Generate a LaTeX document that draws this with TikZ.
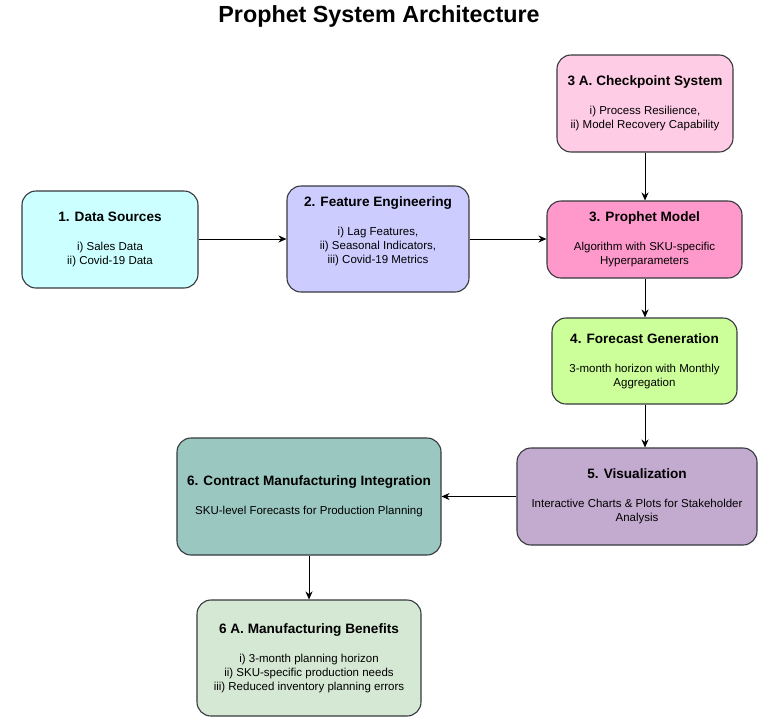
\documentclass[tikz,border=0pt]{standalone}
\usepackage{fontspec}
\setmainfont{Liberation Sans}
\usetikzlibrary{arrows.meta,calc}
\definecolor{cOne}{HTML}{CCFFFF}
\definecolor{cTwo}{HTML}{CCCCFF}
\definecolor{cThreeA}{HTML}{FFCCE6}
\definecolor{cThree}{HTML}{FF99CC}
\definecolor{cFour}{HTML}{CCFF99}
\definecolor{cFive}{HTML}{C3ABD0}
\definecolor{cSix}{HTML}{9AC7BF}
\definecolor{cSixA}{HTML}{D5E8D4}
\definecolor{edgec}{HTML}{36393D}
\tikzset{
  box/.style={draw=edgec, line width=1.1pt, rounded corners=14pt, align=center,
    inner sep=0pt, font=\fontsize{11.5}{14}\selectfont},
  arr/.style={-{Stealth[length=8pt,width=7pt]}, line width=0.9pt, black},
  ttl/.style={font=\fontsize{23.3}{26}\selectfont\bfseries}
}
\newcommand{\bt}[1]{{\fontsize{13.6}{16}\selectfont\bfseries #1}}
\begin{document}
\begin{tikzpicture}[x=1pt,y=-1pt]
\useasboundingbox (0,0) rectangle (778,723);
\node[ttl] (title) at (379,16) {Prophet System Architecture};

\node[box, fill=cThreeA, minimum width=176pt, minimum height=97pt] (cp) at (645,103.5)
  {\bt{3 A. Checkpoint System}\\[15pt]i) Process Resilience,\\ii) Model Recovery Capability};
\node[box, fill=cOne, minimum width=176pt, minimum height=97pt] (ds) at (110,239.5)
  {\bt{1. Data Sources}\\[15pt]i) Sales Data\\ii) Covid-19 Data};
\node[box, fill=cTwo, minimum width=182pt, minimum height=106pt] (fe) at (378,239)
  {\bt{2. Feature Engineering}\\[15pt]i) Lag Features,\\ii) Seasonal Indicators,\\iii) Covid-19 Metrics\\[4pt]};
\node[box, fill=cThree, minimum width=195pt, minimum height=77pt] (pm) at (644.5,239.5)
  {\bt{3. Prophet Model}\\[15pt]Algorithm with SKU-specific\\Hyperparameters};
\node[box, fill=cFour, minimum width=185pt, minimum height=86pt] (fg) at (644.5,361)
  {\bt{4. Forecast Generation}\\[15pt]3-month horizon with Monthly\\Aggregation};
\node[box, fill=cFive, minimum width=240pt, minimum height=97pt] (vz) at (637,496.5)
  {\bt{5. Visualization}\\[15pt]Interactive Charts \& Plots for Stakeholder\\Analysis};
\node[box, fill=cSix, minimum width=264pt, minimum height=117pt] (cm) at (309,496.5)
  {\bt{6. Contract Manufacturing Integration}\\[15pt]SKU-level Forecasts for Production Planning};
\node[box, fill=cSixA, minimum width=224pt, minimum height=116pt] (mb) at (309,658)
  {\bt{6 A. Manufacturing Benefits}\\[15pt]i) 3-month planning horizon\\ii) SKU-specific production needs\\iii) Reduced inventory planning errors};

\coordinate (ax) at (645,0);
\coordinate (ay) at (0,239);
\draw[arr] (ds.east |- ay) -- (fe.west |- ay);
\draw[arr] (fe.east |- ay) -- (pm.west |- ay);
\draw[arr] (cp.south -| ax) -- (pm.north -| ax);
\draw[arr] (pm.south -| ax) -- (fg.north -| ax);
\draw[arr] (fg.south -| ax) -- (vz.north -| ax);
\draw[arr] (vz.west) -- (cm.east);
\draw[arr] (cm.south) -- (mb.north);
\end{tikzpicture}
\end{document}
